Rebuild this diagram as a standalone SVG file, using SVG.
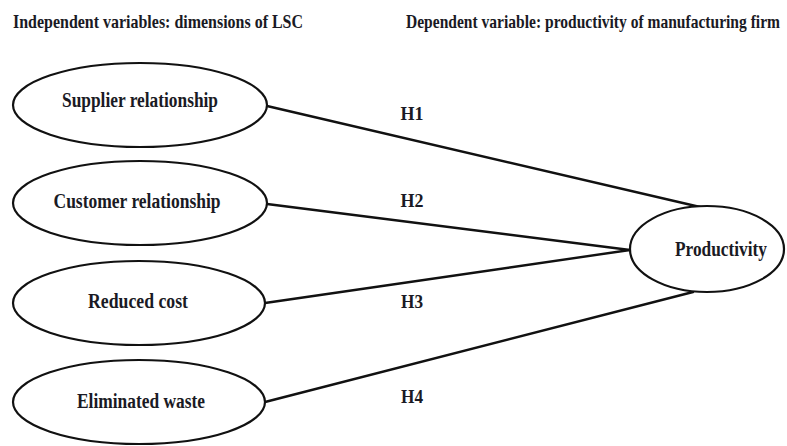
<svg xmlns="http://www.w3.org/2000/svg" width="787" height="446" viewBox="0 0 787 446">
<style>
.node ellipse{fill:#fff;stroke:#111;stroke-width:2.2}
.conn line{stroke:#111;stroke-width:2.4;stroke-linecap:round}
text{font-family:"Liberation Serif","Times New Roman",serif;font-weight:bold;fill:#1a1a24}
.t{font-size:15px}
.n{font-size:20px;text-anchor:middle}
.h{font-size:19px;text-anchor:middle}
</style>
<rect width="787" height="446" fill="#fff"/>
<text class="t" transform="translate(13,28) scale(1,1.2)" x="0" y="0" textLength="290" lengthAdjust="spacingAndGlyphs">Independent variables: dimensions of LSC</text>
<text class="t" transform="translate(406,28) scale(1,1.2)" x="0" y="0" textLength="374" lengthAdjust="spacingAndGlyphs">Dependent variable: productivity of manufacturing firm</text>
<g class="conn" id="connectors">
<line x1="267" y1="106" x2="700" y2="207"/>
<line x1="267" y1="204" x2="630" y2="250"/>
<line x1="265" y1="303" x2="630" y2="250"/>
<line x1="265" y1="402" x2="693" y2="292"/>
</g>
<g id="h-labels">
<text class="h" x="412" y="120" textLength="23" lengthAdjust="spacingAndGlyphs">H1</text>
<text class="h" x="412" y="207" textLength="23" lengthAdjust="spacingAndGlyphs">H2</text>
<text class="h" x="412" y="308" textLength="22" lengthAdjust="spacingAndGlyphs">H3</text>
<text class="h" x="412" y="403" textLength="22" lengthAdjust="spacingAndGlyphs">H4</text>
</g>
<g class="node" id="supplier">
<ellipse cx="140" cy="105" rx="127" ry="42"/>
<text class="n" x="140" y="107" textLength="156" lengthAdjust="spacingAndGlyphs">Supplier relationship</text>
</g>
<g class="node" id="customer">
<ellipse cx="140" cy="203" rx="127" ry="42"/>
<text class="n" x="137" y="208" textLength="167" lengthAdjust="spacingAndGlyphs">Customer relationship</text>
</g>
<g class="node" id="reduced">
<ellipse cx="139" cy="303" rx="126" ry="42"/>
<text class="n" x="138" y="308" textLength="100" lengthAdjust="spacingAndGlyphs">Reduced cost</text>
</g>
<g class="node" id="eliminated">
<ellipse cx="139" cy="402" rx="126" ry="42"/>
<text class="n" x="141" y="408" textLength="128" lengthAdjust="spacingAndGlyphs">Eliminated waste</text>
</g>
<g class="node" id="productivity">
<ellipse cx="707" cy="249" rx="77" ry="43"/>
<text class="n" x="721" y="256" textLength="92" lengthAdjust="spacingAndGlyphs">Productivity</text>
</g>
</svg>
